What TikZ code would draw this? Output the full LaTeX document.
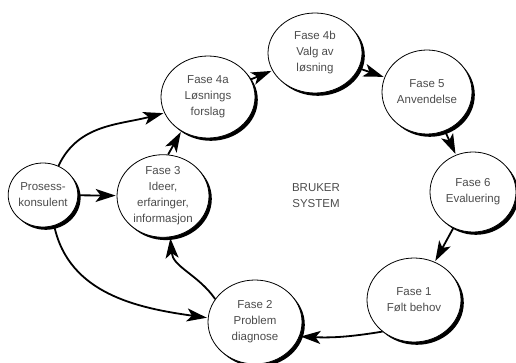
\documentclass[tikz,border=0pt]{standalone}
\usepackage{fontspec}
\setmainfont{Liberation Sans}
\usetikzlibrary{shapes.geometric,shadows,arrows.meta}
\tikzset{
  phase/.style={ellipse, draw=black, line width=0.8pt, fill=white, inner sep=0pt,
    minimum width=94pt, minimum height=82pt, align=center, text=black!70,
    font=\fontsize{11.5}{16}\selectfont,
    drop shadow={shadow xshift=2.8pt, shadow yshift=-2.8pt, fill=black, opacity=1}},
  arr/.style={line width=1.8pt, -{Stealth[length=20pt,width=13pt,inset=5pt]}, shorten >=1pt},
  label/.style={align=center, text=black!70, font=\fontsize{11.5}{16}\selectfont}
}
\begin{document}
\begin{tikzpicture}[x=1pt,y=1pt]
\useasboundingbox (0,0) rectangle (516,-362);
\node[phase, minimum width=66pt, minimum height=64pt] (pk) at (43,-195) {Prosess-\\konsulent};
\node[phase, minimum width=92pt, minimum height=76pt] (f3) at (163,-196) {Fase 3\\Ideer,\\erfaringer,\\informasjon};
\node[phase] (f4a) at (208,-97) {Fase 4a\\Løsnings\\forslag};
\node[phase, minimum height=80pt] (f4b) at (315,-53) {Fase 4b\\Valg av\\løsning};
\node[phase, minimum width=90pt, minimum height=84pt] (f5) at (427,-92) {Fase 5\\Anvendelse};
\node[phase, minimum width=86pt, minimum height=80pt] (f6) at (473,-192) {Fase 6\\Evaluering};
\node[phase, minimum height=84pt] (f1) at (414,-300) {Fase 1\\Følt behov};
\node[phase, minimum height=84pt] (f2) at (255,-322) {Fase 2\\Problem\\diagnose};
\node[label] (bs) at (316,-196) {BRUKER\\SYSTEM};

\draw[arr] (pk.62) to[out=65, in=195] (f4a.200);
\draw[arr] (pk) -- (f3);
\draw[arr] (pk.-70) to[out=-78, in=172] (f2.175);
\draw[arr] (f2.150) to[out=125, in=-85] (f3.-80);
\draw[arr] (f3.83) -- (f4a.232);
\draw[arr] (f4a) -- (f4b);
\draw[arr] (f4b) -- (f5);
\draw[arr] (f5) -- (f6);
\draw[arr] (f6) -- (f1);
\draw[arr] (f1.225) to[bend left=6] (f2.-18);
\end{tikzpicture}
\end{document}
